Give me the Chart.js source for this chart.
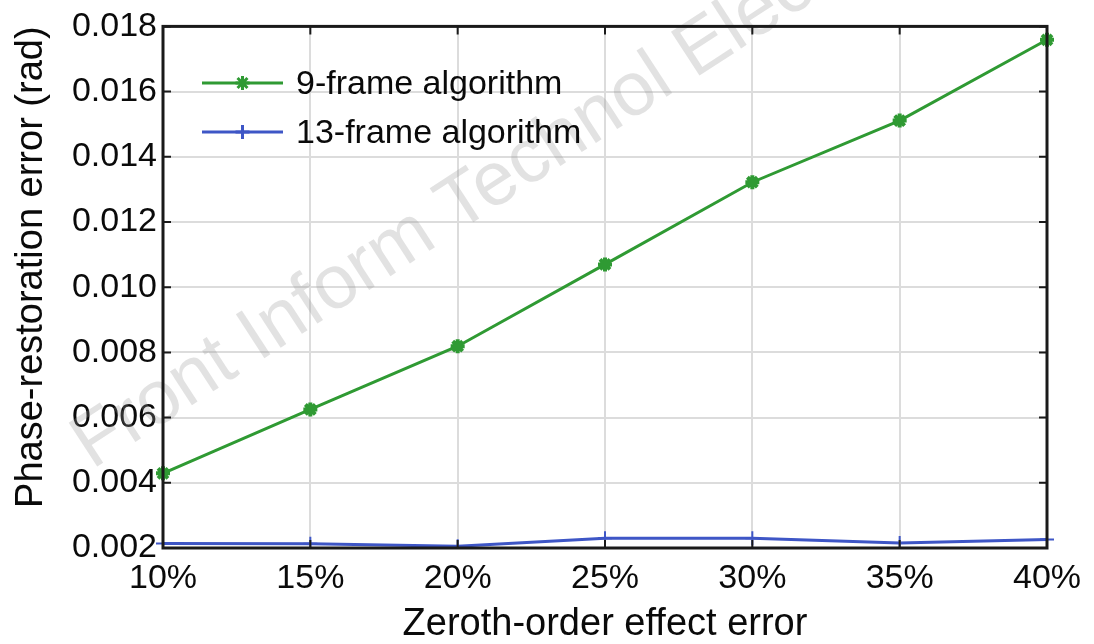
<!DOCTYPE html>
<html>
<head>
<meta charset="utf-8">
<script src="https://cdn.jsdelivr.net/npm/chart.js@4/dist/chart.umd.min.js"></script>
<style>
  html, body { margin: 0; padding: 0; background: #fff; }
  #wrap { width: 1094px; height: 644px; }
</style>
</head>
<body>
<div id="wrap"><canvas id="c" width="1094" height="644"></canvas></div>
<script>
const categories = ['10%', '15%', '20%', '25%', '30%', '35%', '40%'];
const nineFrame = [0.00429, 0.00625, 0.00819, 0.0107, 0.01322, 0.01511, 0.01759];
const thirteenFrame = [0.00214, 0.00213, 0.00205, 0.0023, 0.0023, 0.00215, 0.00226];
const yTickLabels = ['0.002', '0.004', '0.006', '0.008', '0.010', '0.012', '0.014', '0.016', '0.018'];
const seriesNames = ['9-frame algorithm', '13-frame algorithm'];
const xTitle = 'Zeroth-order effect error';
const yTitle = 'Phase-restoration error (rad)';
const watermark = 'Front Inform Technol Elec';

const GREEN = '#2f9a33';
const BLUE = '#3e56c6';
const FONT = "'Liberation Sans', Arial, Helvetica, sans-serif";

Chart.defaults.font.family = FONT;
Chart.defaults.color = '#0a0a0a';

const framePlugin = {
  id: 'frame',
  beforeDatasetsDraw(chart) {
    const { ctx } = chart;
    ctx.save();
    ctx.beginPath();
    ctx.rect(0, 0, chart.width, chart.height);
    ctx.clip();
    ctx.translate(92, 470);
    ctx.rotate(-33 * Math.PI / 180);
    ctx.font = '76px ' + FONT;
    ctx.fillStyle = 'rgba(150,150,150,0.28)';
    ctx.textBaseline = 'alphabetic';
    ctx.fillText(watermark, 0, 0);
    ctx.restore();
  },
  afterDraw(chart) {
    const { ctx, chartArea: a, scales } = chart;
    ctx.save();
    ctx.strokeStyle = '#1a1a1a';
    ctx.lineWidth = 3;
    ctx.strokeRect(a.left, a.top, a.right - a.left, a.bottom - a.top);
    ctx.lineWidth = 2;
    const tl = 8;
    scales.y.ticks.forEach((t, i) => {
      const y = scales.y.getPixelForTick(i);
      ctx.beginPath();
      ctx.moveTo(a.left, y); ctx.lineTo(a.left + tl, y);
      ctx.moveTo(a.right, y); ctx.lineTo(a.right - tl, y);
      ctx.stroke();
    });
    scales.x.ticks.forEach((t, i) => {
      const x = scales.x.getPixelForTick(i);
      ctx.beginPath();
      ctx.moveTo(x, a.top); ctx.lineTo(x, a.top + tl);
      ctx.moveTo(x, a.bottom); ctx.lineTo(x, a.bottom - tl);
      ctx.stroke();
    });
    const ds = chart.data.datasets;
    const lx0 = 202, lx1 = 283, tx = 296;
    const ys = [83, 132];
    ds.forEach((d, i) => {
      const y = ys[i];
      ctx.strokeStyle = d.borderColor;
      ctx.lineWidth = d.borderWidth;
      ctx.beginPath();
      ctx.moveTo(lx0, y); ctx.lineTo(lx1, y);
      ctx.stroke();
      Chart.helpers.drawPoint(ctx, {
        pointStyle: d.pointStyle, radius: d.pointRadius, borderWidth: d.pointBorderWidth, rotation: 0
      }, (lx0 + lx1) / 2, y);
      ctx.fillStyle = '#0a0a0a';
      ctx.font = '34px ' + FONT;
      ctx.textBaseline = 'middle';
      ctx.textAlign = 'left';
      ctx.fillText(d.label, tx, y + 2);
    });
    ctx.restore();
  }
};

new Chart(document.getElementById('c'), {
  type: 'line',
  data: {
    labels: categories,
    datasets: [
      {
        label: seriesNames[0],
        data: nineFrame,
        borderColor: GREEN,
        backgroundColor: GREEN,
        borderWidth: 3,
        pointStyle: 'star',
        pointRadius: 7,
        pointBorderWidth: 4,
        pointBorderColor: GREEN,
        tension: 0
      },
      {
        label: seriesNames[1],
        data: thirteenFrame,
        borderColor: BLUE,
        backgroundColor: BLUE,
        borderWidth: 3,
        pointStyle: 'cross',
        pointRadius: 7,
        pointBorderWidth: 2,
        pointBorderColor: BLUE,
        tension: 0
      }
    ]
  },
  options: {
    responsive: false,
    animation: false,
    layout: { padding: { left: 5, right: 47, top: 25, bottom: 0 } },
    plugins: {
      legend: { display: false },
      tooltip: { enabled: false }
    },
    scales: {
      x: {
        type: 'category',
        offset: false,
        grid: { color: '#dcdcdc', lineWidth: 2, drawTicks: false },
        border: { display: false },
        ticks: { font: { size: 34 }, padding: 10, maxRotation: 0, autoSkip: false },
        title: { display: true, text: xTitle, font: { size: 38, lineHeight: 1.0 }, padding: 0 },
        afterFit(s) { s.height = 96; }
      },
      y: {
        min: 0.002,
        max: 0.018,
        grid: { color: '#dcdcdc', lineWidth: 2, drawTicks: false },
        border: { display: false },
        ticks: {
          stepSize: 0.002,
          font: { size: 34 },
          padding: 6,
          callback: (v, i) => yTickLabels[i]
        },
        title: { display: true, text: yTitle, align: 'end', font: { size: 38, lineHeight: 1.2 }, padding: { top: 4, bottom: 0 } },
        afterFit(s) { s.width = 158; }
      }
    }
  },
  plugins: [framePlugin]
});
</script>
</body>
</html>
